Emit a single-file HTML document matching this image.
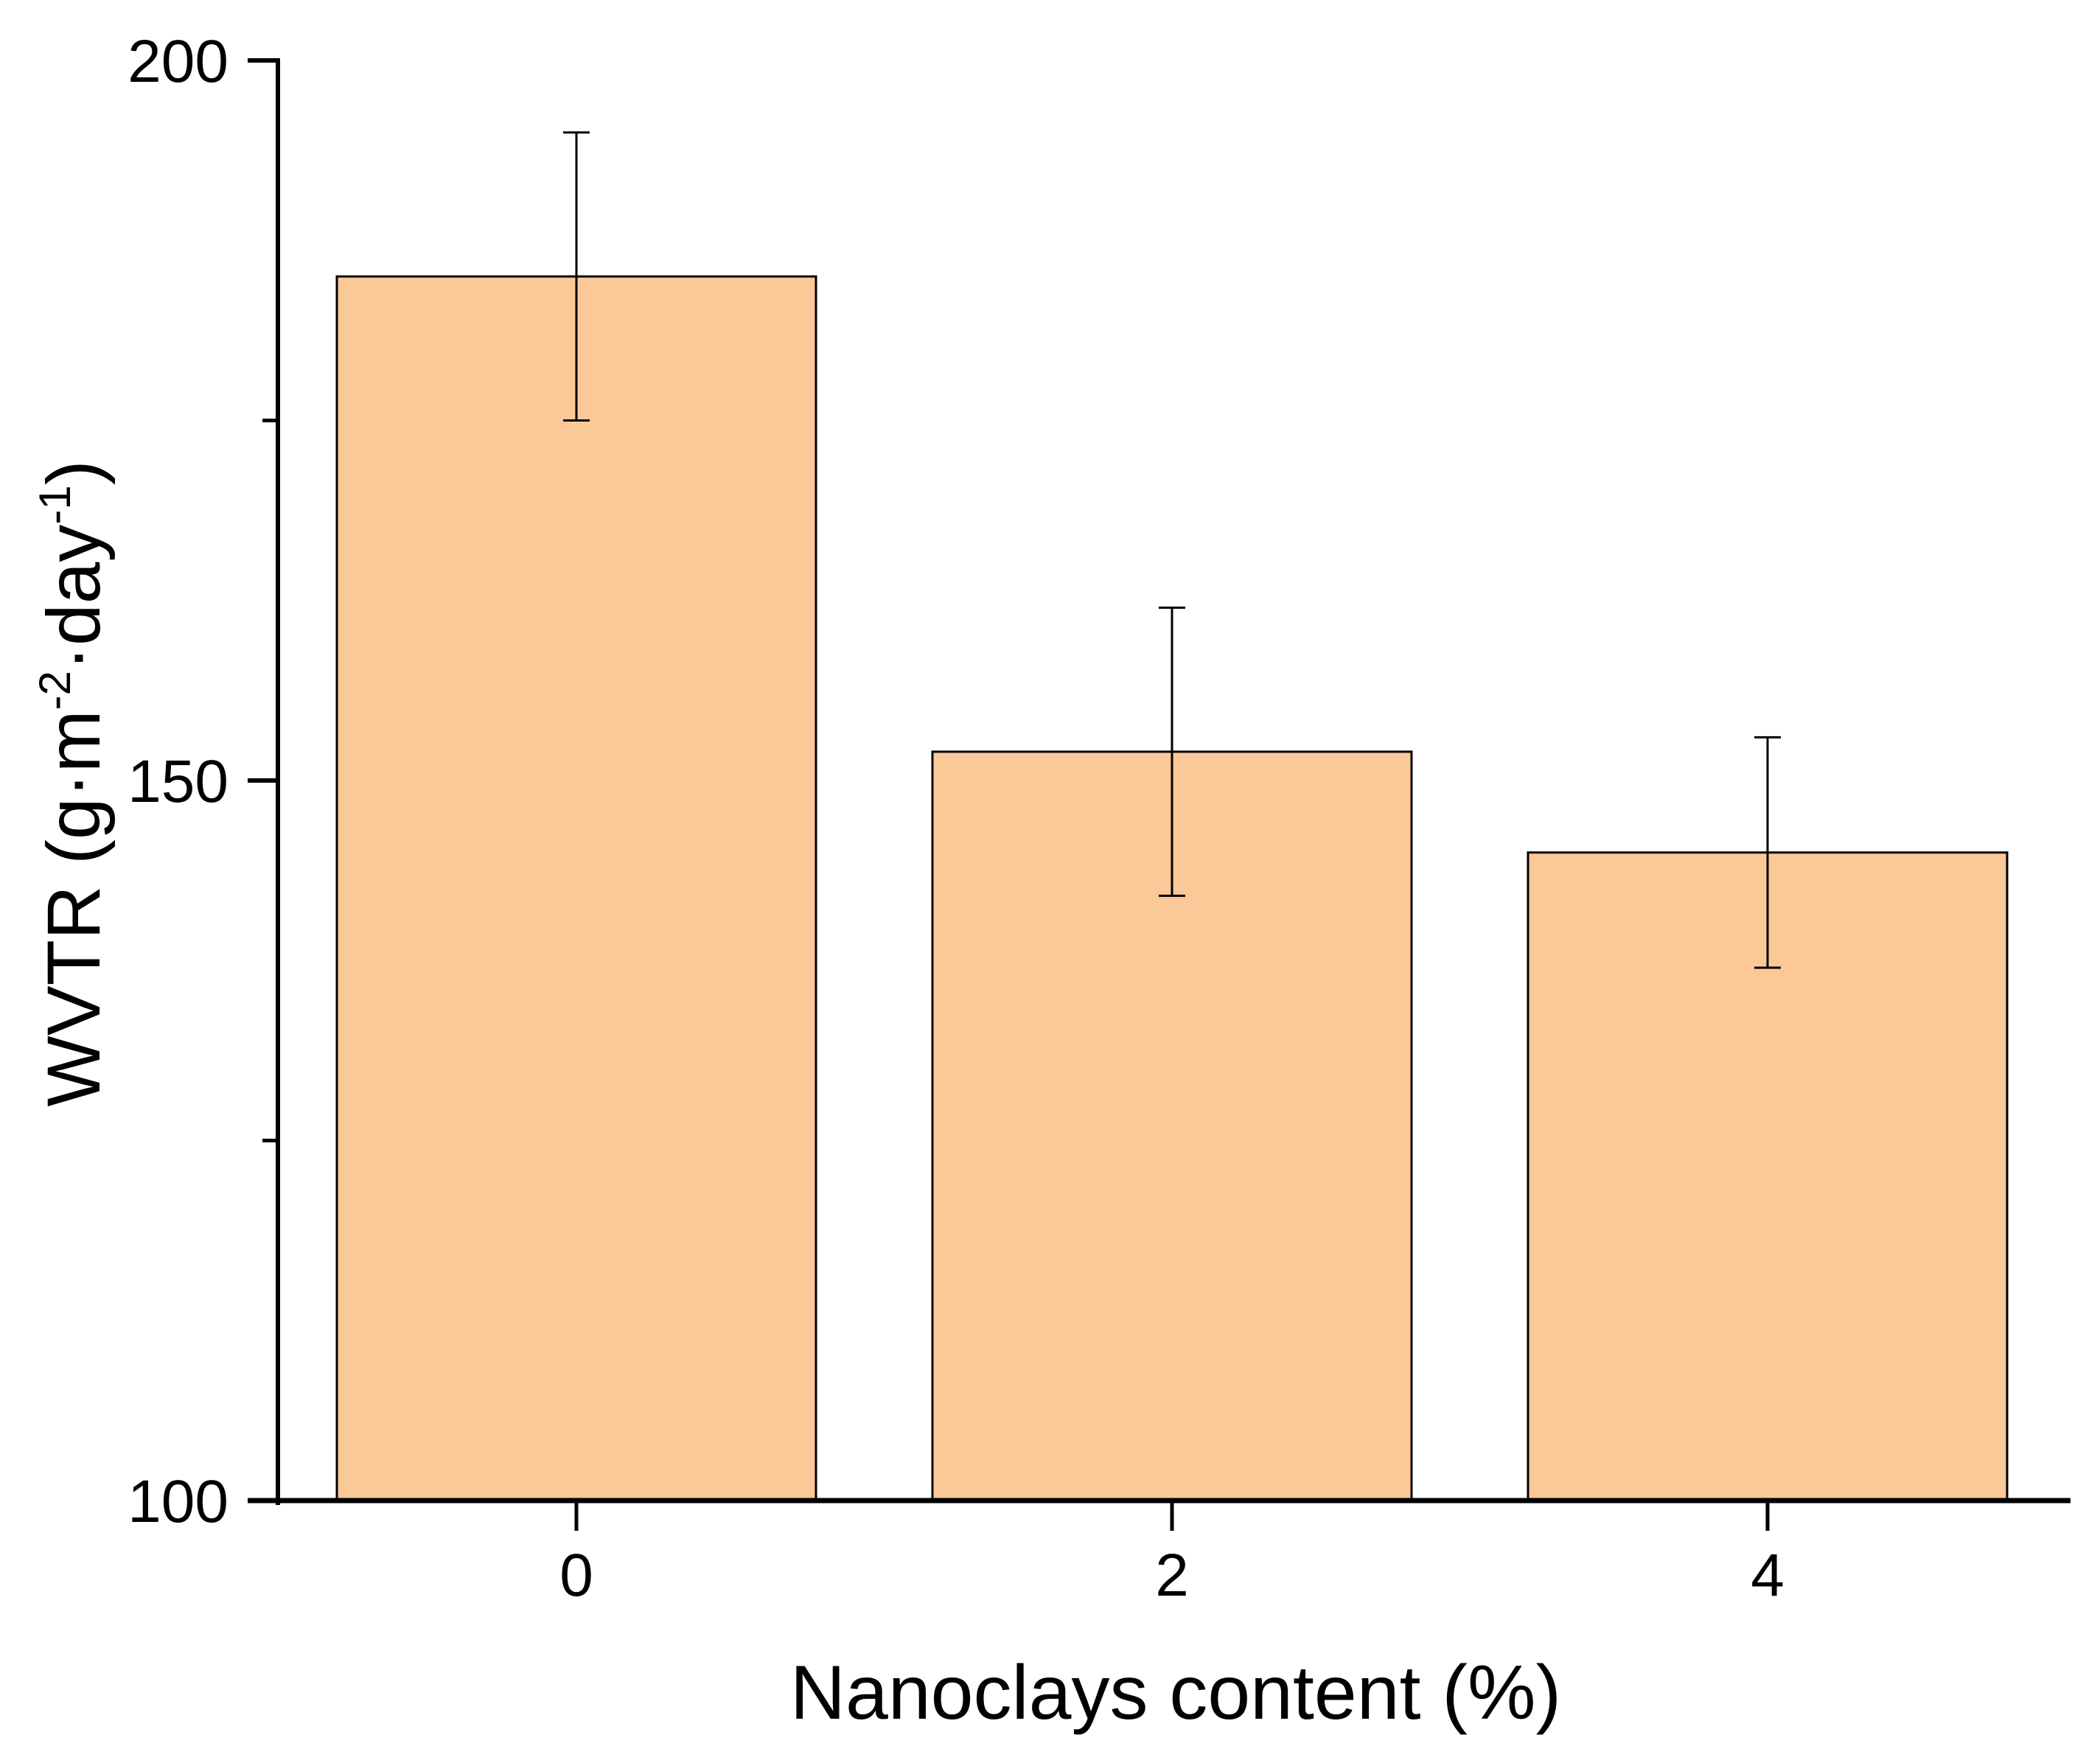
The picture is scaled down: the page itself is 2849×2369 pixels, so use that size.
<!DOCTYPE html>
<html><head><meta charset="utf-8"><style>
html,body{margin:0;padding:0;background:#fff;}
svg{display:block;font-family:"Liberation Sans",Arial,sans-serif;}
</style></head><body>
<svg id="chart" width="2849" height="2369" viewBox="0 0 2849 2369" xmlns="http://www.w3.org/2000/svg">
<g id="bars"></g>
<g id="axes"></g>
<text x="1595" y="2332" font-size="104" text-anchor="middle">Nanoclays content (%)</text>
<text transform="translate(135,1063) rotate(-90)" font-size="102" text-anchor="middle">WVTR (g·m<tspan font-size="60" dy="-40">-2</tspan><tspan dy="40">·day</tspan><tspan font-size="60" dy="-40">-1</tspan><tspan dy="40">)</tspan></text>
</svg>
<script>
const categories = ["0","2","4"];
const values = [185, 152, 145];
const errors = [10, 10, 8];
const yTicks = [100, 150, 200];
const yMinorTicks = [125, 175];

const NS="http://www.w3.org/2000/svg";
const x0=377, yBase=2036, yTop=82, yMin=100, yMax=200;
const firstCenter=782, step=808, barW=650;
function yScale(v){return yBase-(v-yMin)/(yMax-yMin)*(yBase-yTop);}
function xScale(i){return firstCenter+i*step;}
function mk(tag,attrs,parent){const e=document.createElementNS(NS,tag);for(const k in attrs)e.setAttribute(k,attrs[k]);parent.appendChild(e);return e;}
const bars=document.getElementById('bars'), axes=document.getElementById('axes');

categories.forEach((c,i)=>{
  const cx=xScale(i), top=yScale(values[i]);
  const r=mk('rect',{x:cx-barW/2,y:top,width:barW,height:yBase-top,fill:'#FBC898',stroke:'#000','stroke-width':3},bars);
  
  
  const g=mk('g',{stroke:'#000','stroke-width':3},bars);
  
  
  const hi=yScale(values[i]+errors[i]), lo=yScale(values[i]-errors[i]);
  mk('line',{x1:cx,x2:cx,y1:hi,y2:lo},g);
  mk('line',{x1:cx-18,x2:cx+18,y1:hi,y2:hi},g);
  mk('line',{x1:cx-18,x2:cx+18,y1:lo,y2:lo},g);
  const t=mk('line',{x1:cx,x2:cx,y1:yBase,y2:yBase+41,stroke:'#000','stroke-width':5},axes);
  
  
  const l=mk('text',{x:cx,y:2165,'font-size':82,'text-anchor':'middle'},axes);
  
  
  l.textContent=c;
});

const ya=mk('line',{x1:x0,x2:x0,y1:yTop-3,y2:yBase+6,stroke:'#000','stroke-width':6},axes);


const xa=mk('line',{x1:336,x2:2809,y1:yBase,y2:yBase,stroke:'#000','stroke-width':7},axes);



yTicks.forEach(v=>{
  const y=yScale(v);
  const t=mk('line',{x1:336,x2:x0,y1:y,y2:y,stroke:'#000','stroke-width':6},axes);
  
  
  const l=mk('text',{x:310,y:y+29,'font-size':82,'text-anchor':'end'},axes);
  
  
  l.textContent=v;
});
yMinorTicks.forEach(v=>{
  const y=yScale(v);
  const t=mk('line',{x1:356,x2:x0,y1:y,y2:y,stroke:'#000','stroke-width':5},axes);
  
  
});
</script>
</body></html>
